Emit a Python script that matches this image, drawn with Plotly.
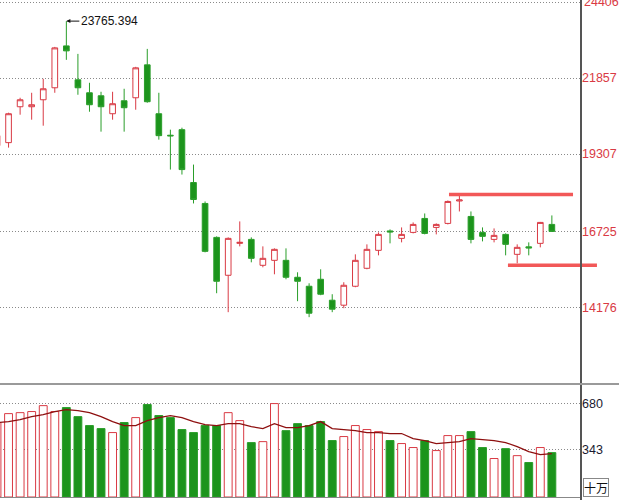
import plotly.graph_objects as go

# ---------------- data ----------------
idx = list(range(49))
open_ = [19592, 19692, 20895, 20895, 21129, 21531, 22935, 21798, 21363, 21263,
         20661, 21096, 21196, 22299, 20661, 19940, 20127, 18355, 17653, 16516,
         15246, 16316, 16449, 15580, 15747, 15747, 15179, 14878, 15112, 14410,
         14243, 14878, 15480, 16082, 16733, 16483, 16683, 17151, 16850, 16984,
         17736, 17218, 16683, 16449, 16616, 15948, 16198, 16316, 16951]
high = [20026, 20695, 21196, 21363, 21831, 22901, 23765.394, 22667, 21698, 21397,
        21397, 21497, 22233, 22834, 21363, 20127, 20193, 18956, 17720, 16550,
        16516, 17051, 16516, 16215, 16148, 16148, 15346, 14978, 15446, 14611,
        15012, 15948, 16282, 16683, 16784, 16850, 17018, 17318, 16984, 17753,
        17920, 17385, 16850, 16817, 16650, 16282, 16349, 17034, 17252]
low = [19491, 19525, 20628, 20461, 20260, 21363, 22467, 21297, 20728, 20060,
       20461, 20060, 20795, 21030, 19792, 18789, 18622, 17653, 16015, 14644,
       14009, 16215, 15680, 15513, 15279, 15112, 14377, 13842, 14578, 14009,
       14143, 14845, 15447, 15914, 16316, 16349, 16650, 16617, 16616, 16951,
       17385, 16316, 16382, 16349, 15914, 15647, 15914, 16182, 16700]
close = [19926, 20661, 21129, 20962, 21497, 22868, 22768, 21531, 20962, 20895,
         20996, 20862, 22199, 21063, 19926, 19920, 18789, 17786, 16048, 15045,
         16483, 16349, 15814, 15814, 16115, 15179, 15045, 13975, 14611, 14109,
         14911, 15747, 16115, 16616, 16700, 16616, 16951, 16650, 16951, 17720,
         17770, 16449, 16550, 16583, 16282, 16182, 16165, 17018, 16717]
volume = [542, 607, 614, 622, 665, 622, 651, 585, 520, 498,
          469, 542, 578, 673, 593, 578, 491, 469, 520, 520,
          614, 556, 396, 403, 680, 483, 534, 520, 549, 411,
          440, 520, 491, 476, 411, 389, 360, 411, 338, 447,
          447, 476, 360, 280, 352, 301, 251, 360, 323]
vol_ma = [542, 549, 563, 585, 600, 622, 636, 629, 614, 585,
          549, 520, 520, 556, 578, 593, 578, 549, 527, 520,
          534, 534, 512, 498, 534, 505, 505, 520, 549, 498,
          491, 483, 469, 469, 462, 462, 425, 411, 389, 396,
          403, 425, 418, 411, 396, 367, 331, 309, 316]

price_ticks = [14176, 16725, 19307, 21857, 24406]
vol_ticks = [343, 680]
high_label = "23765.394"
high_index = 6
resistance = 17954   # upper drawn level
support = 15580      # lower drawn level
vol_unit = "十万"

# ---------------- style ----------------
RED = "#d93a44"
GREEN = "#1c941c"
GREEN_LINE = "#2a9e2a"
GRID = "#8a8a8a"
LEVEL = "#f25858"
X_RANGE = [0.26, 50.52]
Y_RANGE = [11635, 24473]
DOTS = "1px,2px"

up = [c >= o for o, c in zip(open_, close)]

fig = go.Figure()

fig.add_trace(go.Candlestick(
    x=idx, open=open_, high=high, low=low, close=close,
    increasing=dict(line=dict(color=RED, width=1), fillcolor="white"),
    decreasing=dict(line=dict(color=GREEN_LINE, width=1), fillcolor=GREEN),
    whiskerwidth=0, showlegend=False, hoverinfo="skip",
    xaxis="x", yaxis="y"))

fig.add_trace(go.Bar(
    x=idx, y=volume, width=0.68,
    marker=dict(color=["white" if u else GREEN for u in up],
                line=dict(color=[RED if u else GREEN_LINE for u in up], width=1)),
    showlegend=False, hoverinfo="skip", xaxis="x", yaxis="y2"))

fig.add_trace(go.Scatter(
    x=idx, y=vol_ma, mode="lines", line=dict(color="#8e1010", width=1.3),
    showlegend=False, hoverinfo="skip", xaxis="x", yaxis="y2"))

PAPER_H = 497.0
price_dom = [1 - 383 / PAPER_H, 1]
vol_dom = [0, 1 - 386 / PAPER_H]

# labels inside range are drawn by the axis; labels touching the top edge
# are drawn as annotations (plotly hides them)
top_edge = [v for v in price_ticks if (Y_RANGE[1] - v) / (Y_RANGE[1] - Y_RANGE[0]) * 383 < 8]

fig.update_layout(
    width=619, height=500,
    margin=dict(l=0, r=38, t=0, b=3),
    paper_bgcolor="white", plot_bgcolor="white",
    font=dict(family="Liberation Sans, Arial, sans-serif", size=12, color="#111"),
    xaxis=dict(range=X_RANGE, showgrid=False, showticklabels=False, ticks="",
               zeroline=False, showline=True, linecolor="#888", linewidth=1,
               anchor="y2", rangeslider=dict(visible=False), fixedrange=True),
    yaxis=dict(domain=price_dom, range=Y_RANGE, side="right",
               tickvals=price_ticks,
               ticktext=["" if v in top_edge else str(v) for v in price_ticks],
               tickfont=dict(color=RED, size=12.5), ticks="",
               showgrid=True, gridcolor=GRID, griddash=DOTS, gridwidth=1,
               zeroline=False, showline=False, anchor="x"),
    yaxis2=dict(domain=vol_dom, range=[0, 808], side="right",
                tickvals=vol_ticks, ticktext=[str(v) for v in vol_ticks],
                tickfont=dict(color="#1a1a30", size=12.5), ticks="",
                showgrid=True, gridcolor=GRID, griddash=DOTS, gridwidth=1,
                zeroline=False, showline=False, anchor="x"),
)

for v in top_edge:
    fig.add_annotation(xref="paper", yref="y", x=1, y=v, xanchor="left",
                       yanchor="middle", xshift=1, text=str(v), showarrow=False,
                       font=dict(color=RED, size=12.5))

def to_paper_x(i):
    return (i - X_RANGE[0]) / (X_RANGE[1] - X_RANGE[0])

# drawn support / resistance lines
fig.add_shape(type="line", xref="paper", yref="y",
              x0=to_paper_x(39.1), x1=to_paper_x(49.83), y0=resistance, y1=resistance,
              line=dict(color=LEVEL, width=3.5))
fig.add_shape(type="line", xref="paper", yref="y",
              x0=to_paper_x(44.2), x1=to_paper_x(51.9), y0=support, y1=support,
              line=dict(color=LEVEL, width=3.5))

# right vertical axis line
fig.add_shape(type="line", xref="paper", yref="paper", x0=1, x1=1, y0=-0.01, y1=1.01,
              line=dict(color="#555", width=2))
# panel separator
fig.add_shape(type="line", xref="paper", yref="paper", x0=0, x1=1.07,
              y0=1 - 384 / PAPER_H, y1=1 - 384 / PAPER_H,
              line=dict(color="#9a9a9a", width=2))

# highest point annotation
fig.add_annotation(x=high_index, y=high[high_index], xref="x", yref="y",
                   text=high_label, showarrow=True, arrowhead=2, arrowsize=0.8,
                   arrowwidth=1, arrowcolor="#111", ax=13, ay=0,
                   xanchor="left", yanchor="middle",
                   font=dict(size=12, color="#111"))

# unit label
fig.add_annotation(xref="paper", yref="paper", x=1.003, y=0.0, xanchor="left",
                   yanchor="bottom", text=vol_unit, showarrow=False,
                   font=dict(size=12, color="#111", family="Noto Sans CJK SC"),
                   bordercolor="#888", borderwidth=1, borderpad=0,
                   bgcolor="white")

fig.write_html("out.html",
               config={"displayModeBar": False},
               post_script="document.body.style.margin='0';"
                           "document.body.style.overflow='hidden';")
